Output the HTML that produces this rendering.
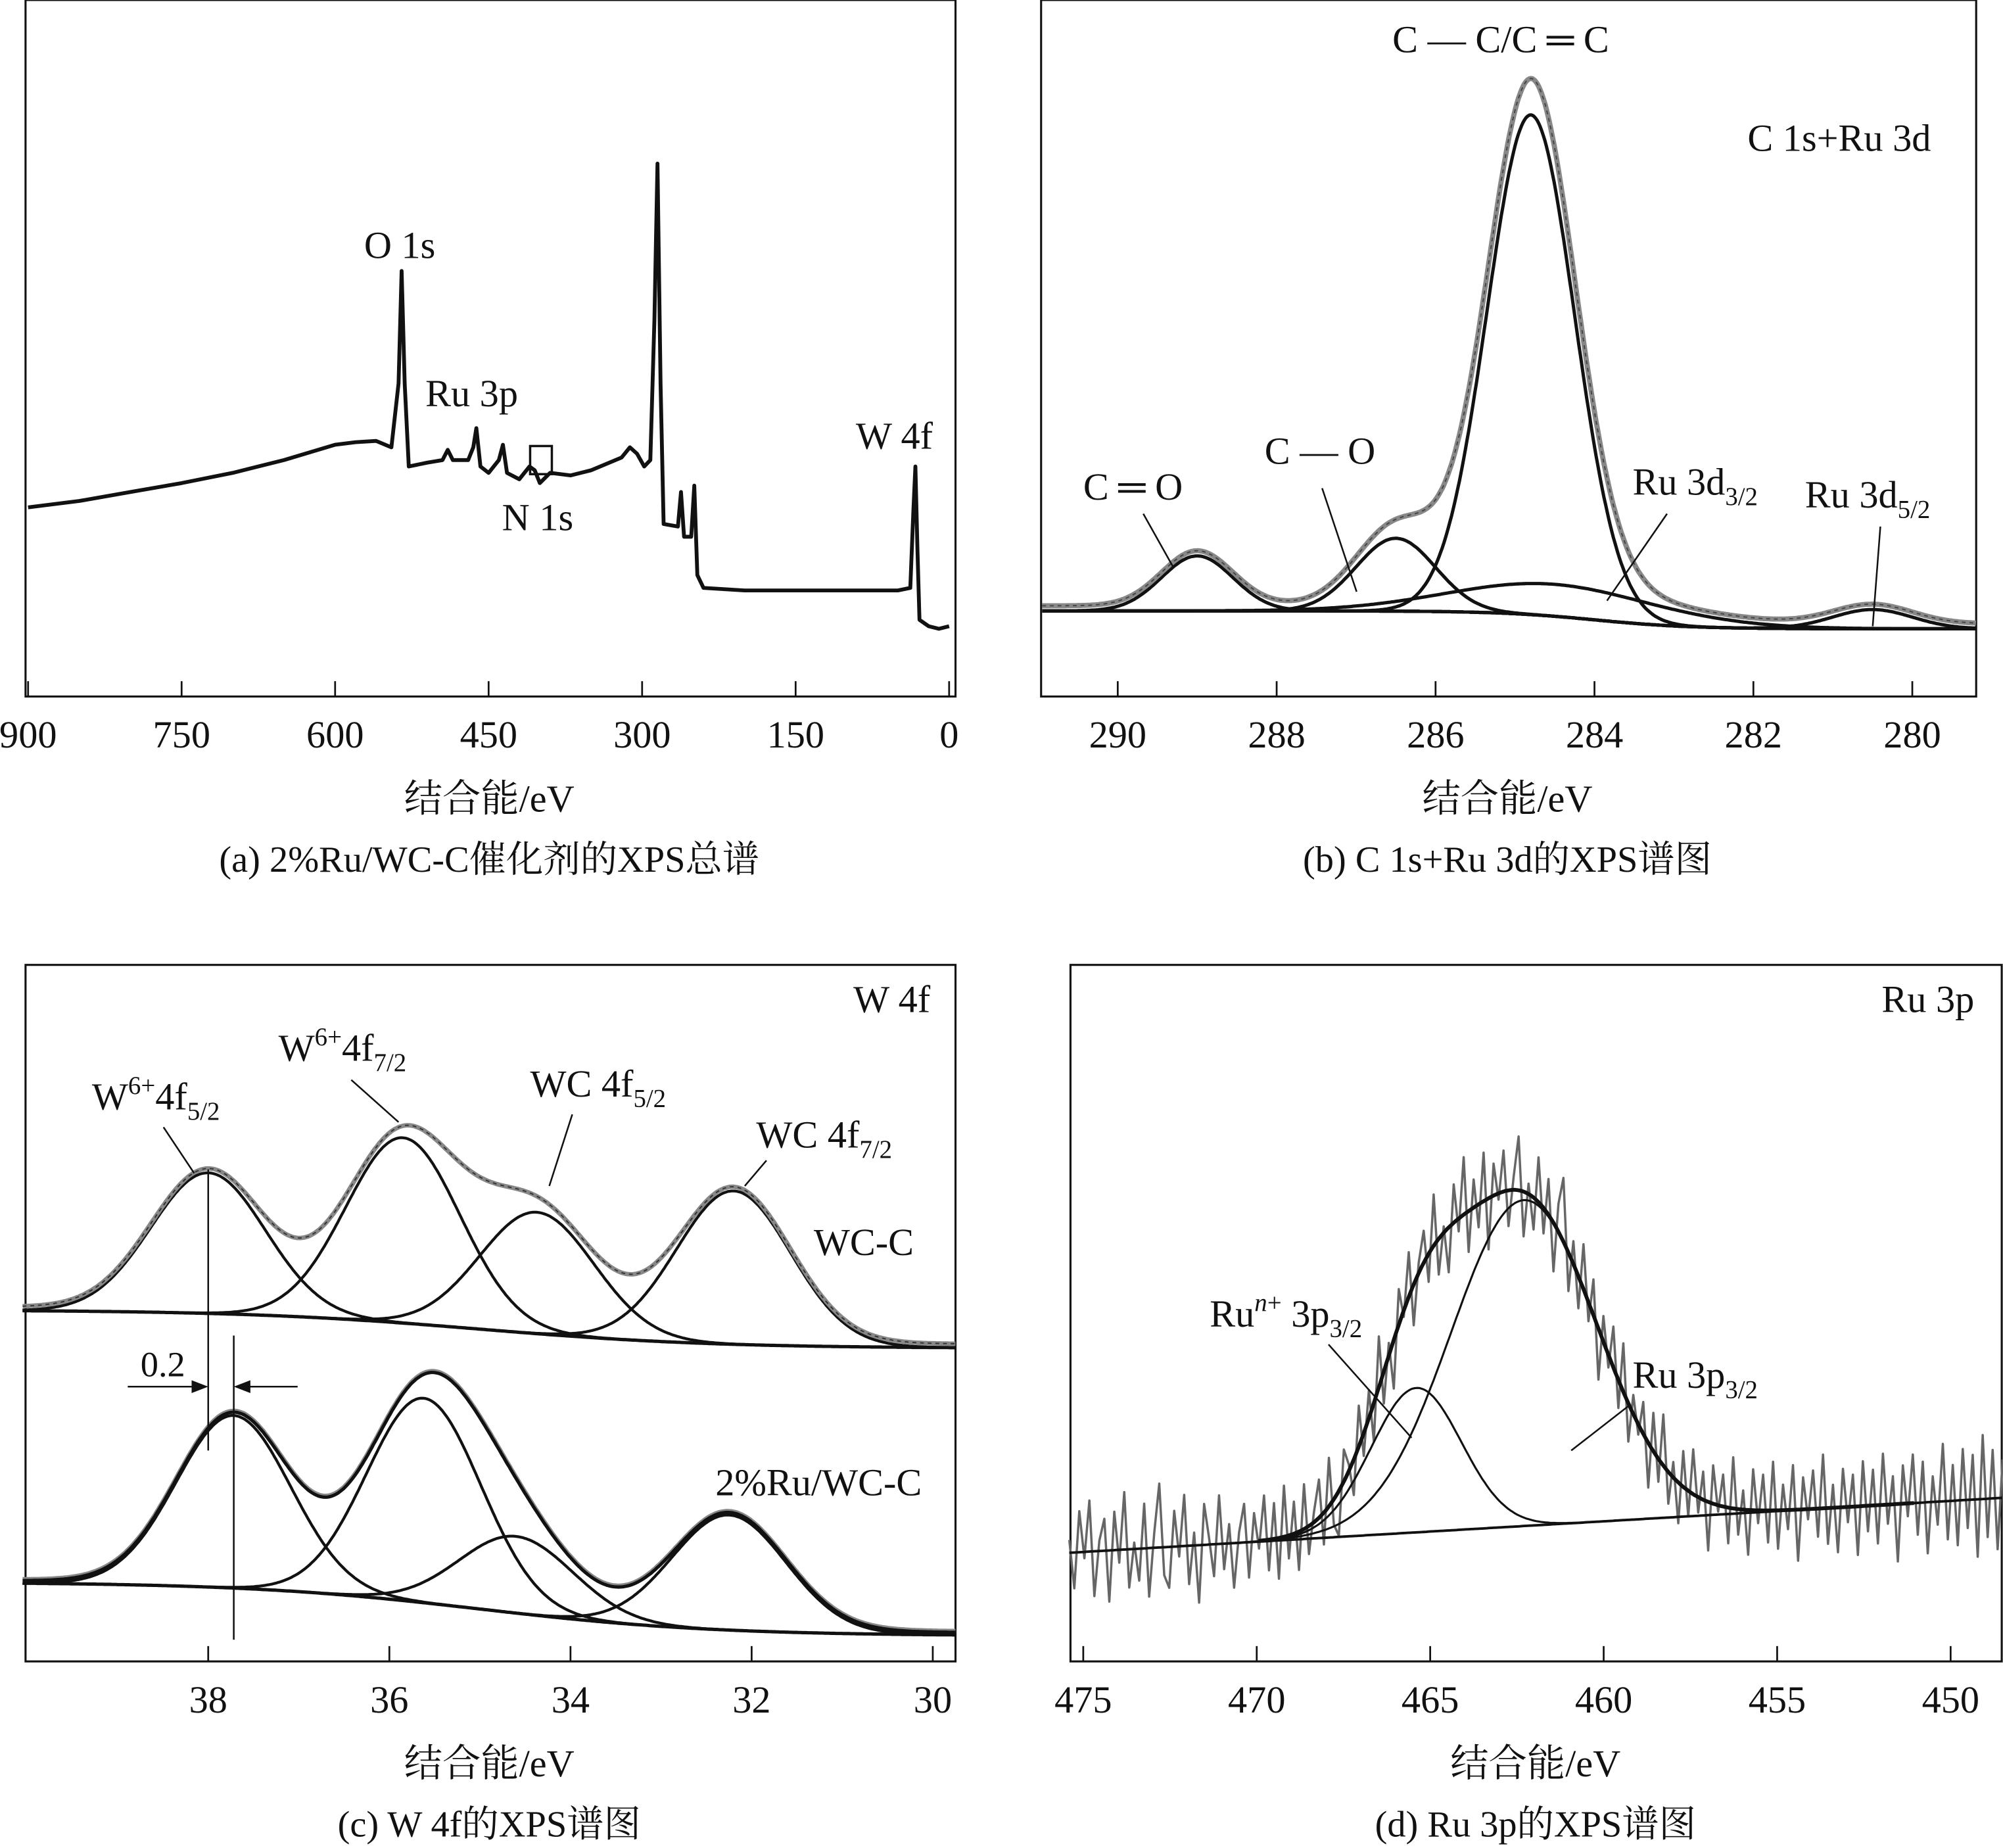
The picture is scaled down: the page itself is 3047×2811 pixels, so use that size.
<!DOCTYPE html>
<html><head><meta charset="utf-8"><style>
html,body{margin:0;padding:0;background:#fff;width:3047px;height:2811px;overflow:hidden}
svg{display:block}
text{font-family:"Liberation Serif","Noto Serif CJK SC",serif;fill:#111}
</style></head><body>
<svg id="fig" width="3047" height="2811" viewBox="0 0 1568 1446" preserveAspectRatio="none" xmlns="http://www.w3.org/2000/svg">
<g id="pa"></g>
<g id="pb"></g>
<g id="pc"></g>
<g id="pd"></g>
</svg>
<script>
// ---- data ----
const aE=[900,850,800,750,700,650,600,580,560,545,538,535,532,528,510,495,490,485,470,465,462,458,450,440,436,432,420,410,405,400,390,370,350,320,312,305,298,292,288,285,282,279,265,262,259,252,249,246,240,200,150,100,50,38,35,33,31,29,20,10,0];
const aI=[148,153,160,167,175,185,197,199,200,195,245,333,245,180,183,185,193,185,185,195,210,180,175,185,197,175,170,180,177,167,175,173,177,187,195,190,180,185,295,417,245,135,133,160,125,125,165,95,85,83,83,83,83,85,145,180,115,60,55,53,55];
const aTicks=[900,750,600,450,300,150,0];
const bCenters=[289.0,286.5,284.8,284.5,280.5];
const bHeights=[43,57,391,25,15];
const bSigmas=[0.45,0.5,0.55,1.3,0.5];
const bTicks=[290,288,286,284,282,280];
const cUpCenters=[38.0,35.85,34.37,32.2];
const cUpHeights=[110,145,95,120];
const cLoCenters=[37.72,35.62,34.6,32.25];
const cLoHeights=[135,160,60,90];
const cTicks=[38,36,34,32,30];
const dCenters=[465.4,462.3];
const dHeights=[113,255];
const dSigmas=[1.3,2.1];
const dNoise=[10,-28,32,-5,40,-35,8,25,-40,30,-10,45,-30,5,-25,35,-38,12,50,-22,-32,28,-8,40,-30,10,-45,32,5,-25,38,-20,15,-35,8,30,-28,22,-6,35,-24,28,-32,40,-18,25,-30,35,-22,8,30,-25,38,-20,-35,25,5,-28,32,-18,22,-30,40,-25,10,-38,28,-5,35,-32,8,25,-22,40,-28,5,-35,30,-10,45,-32,22,-18,38,-40,25,-5,32,-28,10,42,-35,8,-25,35,-20,28,-38,22,50,
-30,18,-25,35,-15,28,-40,20,-10,32,-22,38,-30,15,-8,25,-35,30,-18,40,-25,12,-32,28,-20,35,-12,22,-38,30,-5,25,-28,40,-20,15,-35,32,-10,28,-25,38,-30,20,-15,35,-40,25,-8,30,-22,42,-28,18,-35,30,-12,25,-38,35,-20,28,-30,40,-15,22,-45,30,-10,38,-25,32,-40,20,-18,45,-30,28,-35,40,-22,35,-45,50,-30,38,-40,30];
const dTicks=[475,470,465,460,455,450];

const NS='http://www.w3.org/2000/svg';
function el(tag,attrs,parent){const e=document.createElementNS(NS,tag);for(const k in attrs)e.setAttribute(k,attrs[k]);parent.appendChild(e);return e;}
function txt(parent,x,y,s,size,anchor,name){const t=el('text',{x:x,y:y,'font-size':size,'text-anchor':anchor||'start'},parent);t.innerHTML=s;


return t;}
function path(parent,pts,stroke,w,name,dash){const p=el('path',{d:'M'+pts.map(q=>q[0].toFixed(1)+','+q[1].toFixed(1)).join('L'),fill:'none',stroke:stroke,'stroke-width':w,'stroke-linejoin':'round'},parent);if(dash)p.setAttribute('stroke-dasharray',dash);


return p;}
function line(parent,x1,y1,x2,y2,w,name){const l=el('line',{x1:x1,y1:y1,x2:x2,y2:y2,stroke:'#111','stroke-width':w||1.4},parent);


return l;}
function frame(g,x0,y0,x1,y1,ticks,xs,yt,xc,yc,cap){
  const r=el('rect',{x:x0,y:y0,width:x1-x0,height:y1-y0,fill:'none',stroke:'#111','stroke-width':1.6},g);
  
  
  ticks.forEach(t=>{line(g,xs(t),y1,xs(t),y1-12,1.4,'x-tick');txt(g,xs(t),y1+40,String(t),30,'middle','x-tick-label');});
  txt(g,xc,y1+90,'结合能/eV',30,'middle','x-axis-title');
  txt(g,xc,y1+137,cap,29,'middle','panel-caption');
}
const gauss=(E,c,h,s)=>h*Math.exp(-0.5*((E-c)/s)**2);
function range(a,b,n){const r=[];for(let i=0;i<=n;i++)r.push(a+(b-a)*i/n);return r;}

// ---- panel a ----
(function(){const g=document.getElementById('pa');
const xs=E=>743-E*721/900, ys=I=>545-I;
frame(g,20,0,748,545,aTicks,xs,0,383,545,'(a) 2%Ru/WC-C催化剂的XPS总谱');
path(g,aE.map((E,i)=>[xs(E),ys(aI[i])]),'#111',3,'survey-spectrum');
const b=el('rect',{x:415,y:349,width:17,height:22,fill:'none',stroke:'#111','stroke-width':1.8},g);

txt(g,285,202,'O 1s',30,'start','label-o1s');
txt(g,333,318,'Ru 3p',30,'start','label-ru3p');
txt(g,393,415,'N 1s',30,'start','label-n1s');
txt(g,670,351,'W 4f',30,'start','label-w4f');
})();

// ---- panel b ----
(function(){const g=document.getElementById('pb');
const xs=E=>875+(290-E)*62.2, ys=I=>500-I;
frame(g,815,0,1547,545,bTicks,xs,0,1180,545,'(b) C 1s+Ru 3d的XPS谱图');
const Es=range(290.95,279.2,600);
const bg=E=>22-14/(1+Math.exp((E-284)/0.6));
path(g,Es.map(E=>[xs(E),ys(bg(E))]),'#111',2.6,'background');
bCenters.forEach((c,i)=>path(g,Es.map(E=>[xs(E),ys(bg(E)+gauss(E,c,bHeights[i],bSigmas[i]))]),'#111',2.6,'component-peak'));
const env=E=>bg(E)+bCenters.reduce((s,c,i)=>s+gauss(E,c,bHeights[i],bSigmas[i]),0);
path(g,Es.map(E=>[xs(E),ys(env(E)+4)]),'#888',4,'envelope-grey');
path(g,Es.map(E=>[xs(E),ys(env(E)+4)]),'#444',1,'envelope-dotted','3,3');
txt(g,1090,41,'C — C/C ═ C',30,'start','label-cc');
txt(g,1368,118,'C 1s+Ru 3d',30,'start','label-c1s');
txt(g,848,391,'C ═ O',30,'start','label-co-double');
txt(g,990,363,'C — O',30,'start','label-co');
txt(g,1278,387,'Ru 3d<tspan font-size="20" dy="8">3/2</tspan>',30,'start','label-ru3d32');
txt(g,1413,397,'Ru 3d<tspan font-size="20" dy="8">5/2</tspan>',30,'start','label-ru3d52');
line(g,895,402,918,443,1.3,'leader');line(g,1035,382,1062,463,1.3,'leader');
line(g,1305,402,1258,470,1.3,'leader');line(g,1472,412,1466,490,1.3,'leader');
})();

// ---- panel c ----
(function(){const g=document.getElementById('pc');
const xs=E=>163+(38-E)*70.9;
frame(g,20,755,748,1300,cTicks,xs,0,383,1300,'(c) W 4f的XPS谱图');
const Es=range(40.05,29.75,500);
function draw(y0,centers,heights,b0,b1,name,grey){
  const ys=I=>y0-I;
  const bg=E=>(b1-b0)/(1+Math.exp((E-35)/1.3));
  path(g,Es.map(E=>[xs(E),ys(bg(E))]),'#111',2.6,name+'-background');
  centers.forEach((c,i)=>path(g,Es.map(E=>[xs(E),ys(bg(E)+gauss(E,c,heights[i],0.63))]),'#111',2.2,name+'-peak'));
  const env=E=>bg(E)+centers.reduce((s,c,i)=>s+gauss(E,c,heights[i],0.63),0);
  path(g,Es.map(E=>[xs(E),ys(env(E)+3)]),'#888',3.5,name+'-envelope');
  if(grey)path(g,Es.map(E=>[xs(E),ys(env(E)+3)]),'#333',1,name+'-envelope-dots','3,3');
  else path(g,Es.map(E=>[xs(E),ys(env(E)+2)]),'#111',2.6,name+'-fit');
}
draw(1025,cUpCenters,cUpHeights,0,-30,'wc-c',true);
draw(1238,cLoCenters,cLoHeights,0,-42,'ru-wc-c',false);
txt(g,668,792,'W 4f',30,'start','label-w4f');
txt(g,72,868,'W<tspan font-size="20" dy="-12">6+</tspan><tspan dy="12">4f</tspan><tspan font-size="20" dy="8">5/2</tspan>',30,'start','label-w6-52');
txt(g,218,830,'W<tspan font-size="20" dy="-12">6+</tspan><tspan dy="12">4f</tspan><tspan font-size="20" dy="8">7/2</tspan>',30,'start','label-w6-72');
txt(g,415,858,'WC 4f<tspan font-size="20" dy="8">5/2</tspan>',30,'start','label-wc-52');
txt(g,592,898,'WC 4f<tspan font-size="20" dy="8">7/2</tspan>',30,'start','label-wc-72');
txt(g,637,982,'WC-C',30,'start','label-wc-c');
txt(g,560,1170,'2%Ru/WC-C',30,'start','label-ru-wc-c');
txt(g,110,1077,'0.2',28,'start','label-shift');
line(g,128,882,152,918,1.3,'leader');line(g,275,845,312,878,1.3,'leader');
line(g,448,872,430,928,1.3,'leader');line(g,600,908,583,928,1.3,'leader');
line(g,163,915,163,1135,1.3,'ref-line');line(g,183,1045,183,1283,1.3,'ref-line');
line(g,100,1085,160,1085,1.3,'arrow');line(g,233,1085,186,1085,1.3,'arrow');
const a1=el('path',{d:'M163,1085 L150,1080 L150,1090Z',fill:'#111'},g);
const a2=el('path',{d:'M183,1085 L196,1080 L196,1090Z',fill:'#111'},g);
})();

// ---- panel d ----
(function(){const g=document.getElementById('pd');
const xs=E=>848+(475-E)*27.16, ys=I=>1230-I;
frame(g,838,755,1567,1300,dTicks,xs,0,1202,1300,'(d) Ru 3p的XPS谱图');
const Es=range(475.4,448.5,400);
const bg=E=>15+43*(475.4-E)/26.9;
const env=E=>bg(E)+dCenters.reduce((s,c,i)=>s+gauss(E,c,dHeights[i],dSigmas[i]),0);
const nE=range(475.4,448.5,dNoise.length-1);
path(g,nE.map((E,i)=>[xs(E),ys(env(E)+dNoise[i])]),'#666',1.8,'raw-spectrum');
path(g,Es.map(E=>[xs(E),ys(bg(E))]),'#111',2,'background');
dCenters.forEach((c,i)=>path(g,Es.map(E=>[xs(E),ys(bg(E)+gauss(E,c,dHeights[i],dSigmas[i]))]),'#111',1.6,'component-peak'));
path(g,Es.filter(E=>E<470&&E>451).map(E=>[xs(E),ys(env(E))]),'#111',3,'fit-envelope');
txt(g,1473,792,'Ru 3p',30,'start','label-ru3p');
txt(g,947,1038,'Ru<tspan font-size="20" dy="-12" font-style="italic">n</tspan><tspan font-size="20">+</tspan><tspan dy="12"> 3p</tspan><tspan font-size="20" dy="8">3/2</tspan>',30,'start','label-run-plus');
txt(g,1278,1086,'Ru 3p<tspan font-size="20" dy="8">3/2</tspan>',30,'start','label-ru3p32');
line(g,1040,1052,1105,1125,1.3,'leader');line(g,1275,1100,1230,1135,1.3,'leader');
})();
</script>
</body></html>
